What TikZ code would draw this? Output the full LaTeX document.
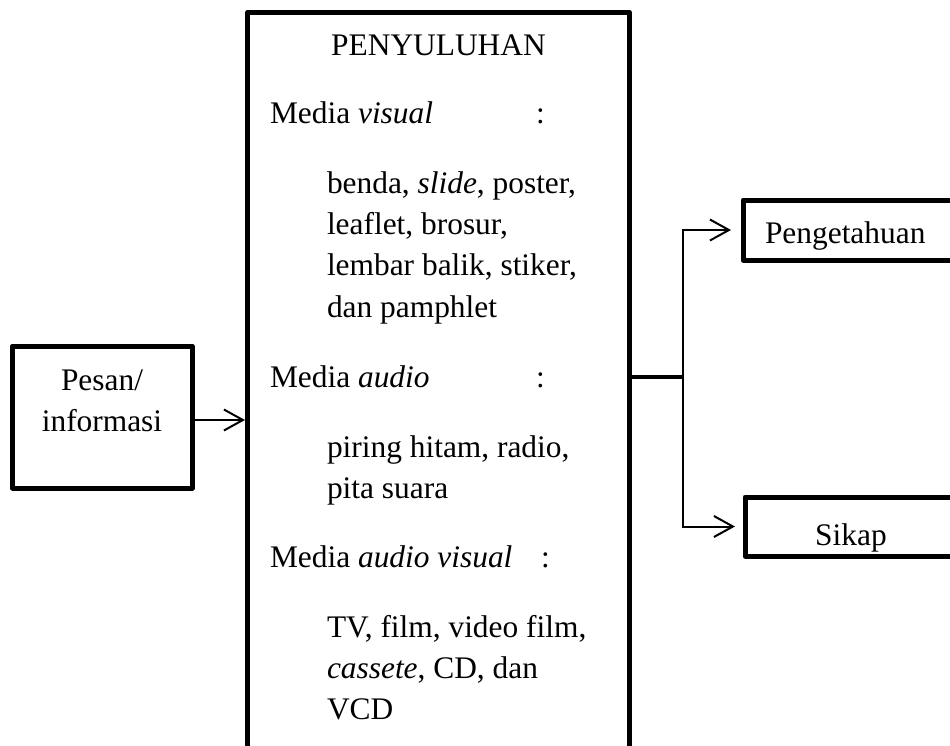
\documentclass[tikz,border=0pt]{standalone}
\usepackage{fontspec}
\setmainfont{Liberation Serif}
\usetikzlibrary{arrows.meta}
\begin{document}
\begin{tikzpicture}[x=1pt,y=-1pt,
  box/.style={draw, line width=5pt, line join=round, inner sep=0pt, outer sep=0pt, anchor=north west},
  txt/.style={inner sep=0pt, outer sep=0pt, font=\fontsize{31.4}{41.3}\selectfont},
  tl/.style={txt, anchor=base west},
  tc/.style={txt, anchor=base},
  barb/.tip={Straight Barb[length=19pt,width=21pt]},
  arr/.style={line width=2pt, -barb}]
\useasboundingbox (0,0) rectangle (950,745);
\clip (0,0) rectangle (950,745);
% boxes
\node[box, minimum width=382pt, minimum height=760pt] (main) at (247.5,12.5) {};
\node[box, minimum width=179.5pt, minimum height=142pt] (pesan) at (12.5,346) {};
\node[box, minimum width=217pt, minimum height=60pt] (peng) at (743,200) {};
\node[box, minimum width=215pt, minimum height=59pt] (sikap) at (745,497) {};
% texts in main box
\node[tc] (title) at (438.5,55) {PENYULUHAN};
\node[tl] (mv) at (270,123) {Media \textit{visual}};
\node[tl] (mvc) at (536,123) {:};
\node[tl] (v1) at (327,193) {benda, \textit{slide}, poster,};
\node[tl] (v2) at (327,234.3) {leaflet, brosur,};
\node[tl] (v3) at (327,275.6) {lembar balik, stiker,};
\node[tl] (v4) at (327,317) {dan pamphlet};
\node[tl] (ma) at (270,387) {Media \textit{audio}};
\node[tl] (mac) at (536,387) {:};
\node[tl] (a1) at (327,457) {piring hitam, radio,};
\node[tl] (a2) at (327,498) {pita suara};
\node[tl] (mav) at (270,567) {Media \textit{audio visual}};
\node[tl] (mavc) at (541,567) {:};
\node[tl] (av1) at (327,637) {TV, film, video film,};
\node[tl] (av2) at (327,678) {\textit{cassete}, CD, dan};
\node[tl] (av3) at (327,719.5) {VCD};
% other texts
\node[tc] (pesan1) at (102,390) {Pesan/};
\node[tc] (pesan2) at (102,431) {informasi};
\node[tl] (pengt) at (765,243) {Pengetahuan};
\node[tc] (sikapt) at (851,545) {Sikap};
% connectors
\draw[arr, shorten >=2.5pt] ([yshift=-3pt]pesan.east) -- ([yshift=-3pt]pesan.east -| main.west);
\coordinate (j) at (683,377);
\draw[line width=3.5pt] (main.east |- j) -- ([xshift=1pt]j);
\draw[line width=2pt, barb-barb, shorten <=12pt, shorten >=10pt]
  (peng.west) -| (j) |- (sikap.west);
\end{tikzpicture}
\end{document}
